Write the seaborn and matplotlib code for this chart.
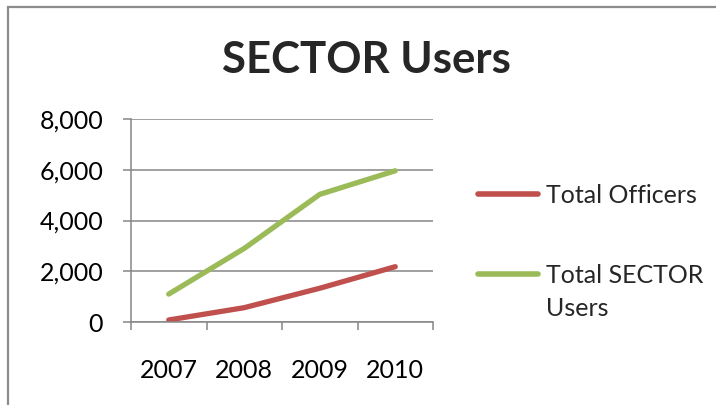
import matplotlib
matplotlib.use("Agg")
import matplotlib.pyplot as plt
from matplotlib.patches import Rectangle
from matplotlib.ticker import FuncFormatter, FixedLocator
import seaborn as sns
import pandas as pd

# Chart data
years = ["2007", "2008", "2009", "2010"]
total_officers = [80, 565, 1330, 2180]
total_sector_users = [1100, 2900, 5030, 5960]
series_names = ["Total Officers", "Total SECTOR Users"]
y_ticks = [0, 2000, 4000, 6000, 8000]

df = pd.DataFrame({
    "Year": years * 2,
    "Value": total_officers + total_sector_users,
    "Series": [series_names[0]] * len(years) + [series_names[1]] * len(years),
})

sns.set_theme(style="white")
plt.rcParams["font.family"] = ["Lato", "DejaVu Sans"]

W, H = 716, 405
fig = plt.figure(figsize=(W / 100, H / 100), dpi=100)
ax = fig.add_axes([131 / W, 1 - 322 / H, (433 - 131) / W, (322 - 119) / H])

palette = {series_names[0]: "#C0504D", series_names[1]: "#9BBB59"}
sns.lineplot(data=df, x="Year", y="Value", hue="Series", palette=palette,
             linewidth=3.8, ax=ax, sort=False, legend=True)
for ln in ax.get_lines():
    ln.set_solid_capstyle("round")

grid_c = "#868686"
tick_fs = 18
ax.set_xlim(-0.5, len(years) - 0.5)
ax.set_ylim(y_ticks[0], y_ticks[-1])
ax.set_yticks(y_ticks)
ax.yaxis.set_major_formatter(FuncFormatter(lambda v, p: f"{int(v):,}"))
ax.yaxis.grid(True, color=grid_c, linewidth=1.1)
ax.set_axisbelow(True)

# category boundaries carry the tick marks, centres carry the labels
ax.xaxis.set_major_locator(FixedLocator([i - 0.5 for i in range(len(years) + 1)]))
ax.xaxis.set_minor_locator(FixedLocator(list(range(len(years)))))
ax.set_xticklabels([], minor=False)
ax.set_xticklabels(years, minor=True)
ax.tick_params(axis="x", which="major", length=6, width=1.1, color=grid_c,
               direction="out", bottom=True)
ax.tick_params(axis="x", which="minor", length=0, pad=27, labelsize=tick_fs,
               labelcolor="black", bottom=True)
ax.tick_params(axis="y", length=6, width=1.1, color=grid_c, direction="out",
               left=True, pad=14, labelsize=tick_fs, labelcolor="black")

for s in ["top", "right"]:
    ax.spines[s].set_visible(False)
for s in ["left", "bottom"]:
    ax.spines[s].set_color(grid_c)
    ax.spines[s].set_linewidth(1.1)
ax.set_xlabel("")
ax.set_ylabel("")

# Legend; the second label wraps, its first line sitting beside the handle
leg_fs = 18
handles, labels = ax.get_legend_handles_labels()
leg = ax.legend(handles, ["Total Officers", "Total SECTOR"], loc="upper left",
                bbox_to_anchor=(468 / W, 1 - 174 / H), bbox_transform=fig.transFigure,
                frameon=False, fontsize=leg_fs, handlelength=2.4, handletextpad=0.3,
                labelspacing=2.27, borderaxespad=0)
for h in leg.get_lines():
    h.set_linewidth(4.0)
    h.set_solid_capstyle("round")

fig.text(366 / W, 1 - 73 / H, "SECTOR Users", ha="center", va="baseline",
         fontsize=31.5, fontweight="bold")

# chart frame
fig.add_artist(Rectangle((8 / W, -0.5), 1.2, 1 - 7 / H + 0.5, transform=fig.transFigure,
                         fill=False, edgecolor="#8C8C8C", linewidth=1.6, clip_on=False))

# second line of the wrapped legend label
fig.canvas.draw()
bb = leg.get_texts()[1].get_window_extent().transformed(fig.transFigure.inverted())
fig.text(bb.x0, bb.y0 - 10 / H, "Users", ha="left", va="top", fontsize=leg_fs)

fig.savefig("out.png", dpi=100)
